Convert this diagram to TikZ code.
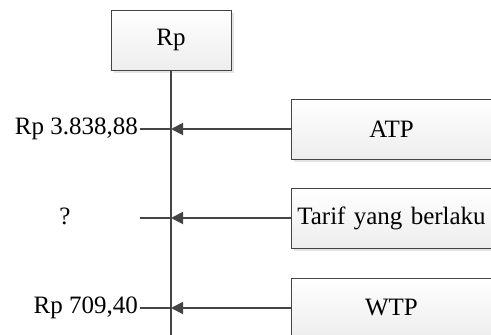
\documentclass[tikz,border=0pt]{standalone}
\usepackage{fontspec}
\setmainfont{Liberation Serif}
\usetikzlibrary{arrows.meta,shadows}
\definecolor{linegray}{HTML}{444444}
\newcommand{\inbox}[1]{\makebox[200pt][c]{#1}}
\tikzset{
	box/.style={draw=linegray, line width=1pt, top color=white, bottom color=gray!14,
		drop shadow={shadow xshift=2.5pt, shadow yshift=-2.5pt, fill=gray!35, opacity=0.6},
		minimum height=60pt, font=\fontsize{25}{30}\selectfont},
	sidebox/.style={box, anchor=west, text width=212pt, align=left, inner xsep=0pt},
	conn/.style={draw=linegray, line width=1.9pt},
	val/.style={left, inner sep=2pt, font=\fontsize{25}{30}\selectfont}
}
\begin{document}
\begin{tikzpicture}[x=1pt,y=-1pt]
		\useasboundingbox (0,0) rectangle (491,335);
		\node[box, minimum width=120pt] (rp) at (171,40) {Rp};
		\coordinate (axisend) at (171,335);
		\draw[conn] (rp.south) -- (axisend);
		
		\node[sidebox] (atp) at (291,129) {\inbox{ATP}};
		\node[sidebox] (tarif) at (291,218) {\inbox{Tarif yang berlaku}};
		\node[sidebox] (wtp) at (291,308) {\inbox{WTP}};
		
		\node[val] (atpval) at (140,129) {Rp 3.838,88};
		\node[font=\fontsize{25}{30}\selectfont] (qmark) at (65,216) {?};
		\coordinate (qend) at (140,218);
		\node[val] (wtpval) at (140,308) {Rp 709,40};
		
		\draw[conn] (atpval.east) -- (atpval.east -| rp.south);
		\draw[conn] (qend) -- (qend -| rp.south);
		\draw[conn] (wtpval.east) -- (wtpval.east -| rp.south);
		\draw[conn, -{Triangle[length=12pt,width=12pt]}] (atp.west) -- (atp.west -| rp.south);
		\draw[conn, -{Triangle[length=12pt,width=12pt]}] (tarif.west) -- (tarif.west -| rp.south);
		\draw[conn, -{Triangle[length=12pt,width=12pt]}] (wtp.west) -- (wtp.west -| rp.south);
	\end{tikzpicture}
\end{document}
